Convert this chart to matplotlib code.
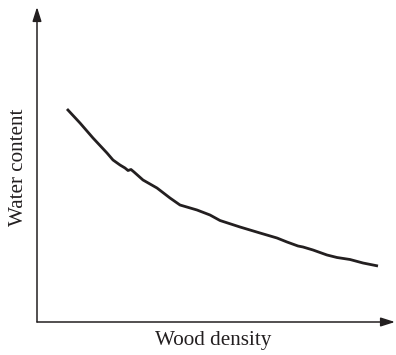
import matplotlib
matplotlib.use("Agg")
import matplotlib.pyplot as plt

# Water content falls as wood density rises (arbitrary units, origin at the axes corner)
density = [30, 43, 56, 70, 76, 83, 88, 91, 94, 97, 106, 120, 133, 143, 160, 173, 183,
           203, 223, 240, 250, 261, 266, 276, 290, 300, 313, 326, 341]
water = [213, 199, 184, 169, 162, 157, 154, 151.5, 152.5, 150, 142, 134, 124, 117, 112, 107, 101.5,
         95, 89, 84, 80, 76, 75, 72, 67, 64.5, 62.5, 59, 56]

X_LABEL = "Wood density"
Y_LABEL = "Water content"

W, H = 396, 355
fig = plt.figure(figsize=(W / 100, H / 100), dpi=100)
# axes box: corner at (37, 322) px, ending at (395, 7) px
ax = fig.add_axes([37 / W, 1 - 322 / H, (395 - 37) / W, (322 - 7) / H])
ax.set_xlim(0, 358)
ax.set_ylim(0, 315)
ax.axis("off")

ax.plot(density, water, color="#231f20", linewidth=2.0,
        solid_capstyle="butt", solid_joinstyle="round")

# axis arrows
arrow = dict(arrowstyle="-|>,head_length=0.85,head_width=0.27", color="#231f20",
             linewidth=1.1, shrinkA=0, shrinkB=0)
ax.annotate("", xy=(0, 1), xytext=(0, 0), xycoords="axes fraction", arrowprops=arrow)
ax.annotate("", xy=(1, 0), xytext=(0, 0), xycoords="axes fraction", arrowprops=arrow)

font = dict(family="Liberation Serif", fontsize=15.2, color="#231f20")
fig.text(213 / W, 1 - 340 / H, X_LABEL, ha="center", va="center", **font)
fig.text(19 / W, 1 - 167 / H, Y_LABEL, ha="center", va="center", rotation=90, **font)

fig.savefig("out.png", dpi=100)
